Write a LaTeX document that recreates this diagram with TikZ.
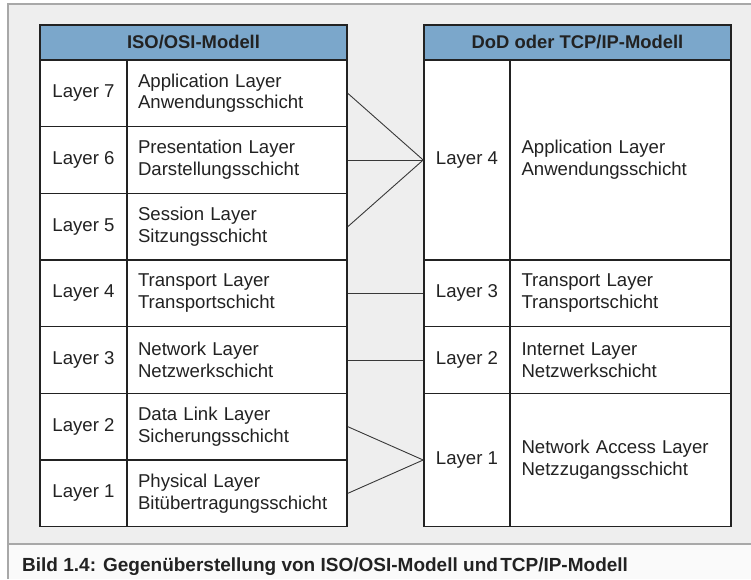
\documentclass[tikz,border=0pt]{standalone}
\usepackage{fontspec}
\setmainfont{Liberation Sans}
\definecolor{panelbg}{HTML}{EEEEEE}
\definecolor{panelline}{HTML}{A8A8A8}
\definecolor{headblue}{HTML}{7BA7CB}
\definecolor{ink}{HTML}{222222}
\definecolor{capbg}{HTML}{FAFAFA}
\begin{document}
\begin{tikzpicture}[x=1pt,y=-1pt,
  cell/.style={draw=ink, line width=1.6pt, fill=white, inner sep=0pt, text=ink,
    font=\fontsize{18.6}{21.7}\selectfont},
  numcell/.style={cell, minimum width=87pt, minimum height=66.67pt, align=center},
  desccell/.style={cell, minimum width=220pt, minimum height=66.67pt, inner xsep=11pt,
    text width=198pt, align=left},
  headcell/.style={draw=ink, line width=1.6pt, fill=headblue, inner sep=0pt, text=ink,
    minimum width=307pt, minimum height=35pt,
    font=\fontsize{18.4}{21}\selectfont\bfseries},
  conn/.style={draw=ink!90, line width=0.9pt},
  caption/.style={text=ink, anchor=base west, inner sep=0pt,
    font=\fontsize{19}{22}\selectfont\bfseries}]
\useasboundingbox (0,0) rectangle (751,579);
% background, panel and caption strip
\fill[white] (0,0) rectangle (751,579);
\fill[panelbg] (8,4) rectangle (752,544);
\fill[capbg] (8,545) rectangle (752,579);
\draw[panelline, line width=1.5pt] (8,579) -- (8,4) -- (752,4);
\draw[panelline, line width=2pt] (8,544) -- (752,544);

% ISO/OSI table
\node[headcell] (osihead) at (193.5,42.5) {ISO/OSI-Modell};
\node[numcell]  (o7n) at (83.5,93.33)  {Layer 7};
\node[desccell] (o7d) at (237,93.33)   {Application Layer\\Anwendungsschicht};
\node[numcell]  (o6n) at (83.5,160)    {Layer 6};
\node[desccell] (o6d) at (237,160)     {Presentation Layer\\Darstellungsschicht};
\node[numcell]  (o5n) at (83.5,226.67) {Layer 5};
\node[desccell] (o5d) at (237,226.67)  {Session Layer\\Sitzungsschicht};
\node[numcell]  (o4n) at (83.5,293.33) {Layer 4};
\node[desccell] (o4d) at (237,293.33)  {Transport Layer\\Transportschicht};
\node[numcell]  (o3n) at (83.5,360)    {Layer 3};
\node[desccell] (o3d) at (237,360)     {Network Layer\\Netzwerkschicht};
\node[numcell]  (o2n) at (83.5,426.67) {Layer 2};
\node[desccell] (o2d) at (237,426.67)  {Data Link Layer\\Sicherungsschicht};
\node[numcell]  (o1n) at (83.5,493.33) {Layer 1};
\node[desccell] (o1d) at (237,493.33)  {Physical Layer\\Bitübertragungsschicht};

% DoD / TCP/IP table
\node[headcell] (tcphead) at (577.5,42.5) {DoD oder TCP/IP-Modell};
\node[numcell, minimum width=86pt, minimum height=200pt] (t4n) at (467,160) {Layer 4};
\node[desccell, minimum width=221pt, minimum height=200pt] (t4d) at (620.5,160)
  {Application Layer\\Anwendungsschicht};
\node[numcell, minimum width=86pt] (t3n) at (467,293.33) {Layer 3};
\node[desccell, minimum width=221pt] (t3d) at (620.5,293.33) {Transport Layer\\Transportschicht};
\node[numcell, minimum width=86pt] (t2n) at (467,360) {Layer 2};
\node[desccell, minimum width=221pt] (t2d) at (620.5,360) {Internet Layer\\Netzwerkschicht};
\node[numcell, minimum width=86pt, minimum height=133.33pt] (t1n) at (467,460) {Layer 1};
\node[desccell, minimum width=221pt, minimum height=133.33pt] (t1d) at (620.5,460)
  {Network Access Layer\\Netzzugangsschicht};

% layer mapping
\draw[conn] (o7d.east) -- (t4n.west);
\draw[conn] (o6d.east) -- (t4n.west);
\draw[conn] (o5d.east) -- (t4n.west);
\draw[conn] (o4d.east) -- (t3n.west);
\draw[conn] (o3d.east) -- (t2n.west);
\draw[conn] (o2d.east) -- (t1n.west);
\draw[conn] (o1d.east) -- (t1n.west);

% caption
\node[caption] (cap) at (22,571.5)
  {Bild 1.4: Gegenüberstellung von ISO/OSI-Modell und\kern0.12em TCP/IP-Modell};
\end{tikzpicture}
\end{document}
